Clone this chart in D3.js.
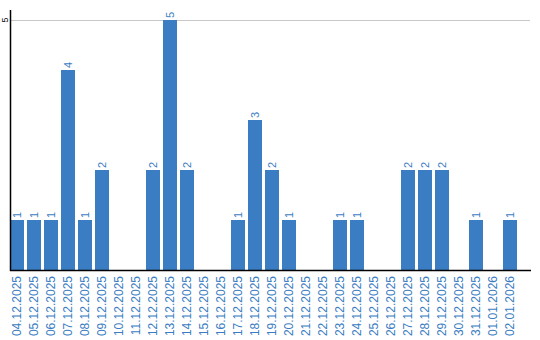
<!DOCTYPE html>
<html>
<head>
<meta charset="utf-8">
<script src="https://cdn.jsdelivr.net/npm/d3@7"></script>
<style>
  body { margin: 0; background: #fff; }
  text { font-family: "Liberation Sans", Arial, sans-serif; }
</style>
</head>
<body>
<svg id="chart" width="540" height="340"></svg>
<script>
const dates = ["04.12.2025","05.12.2025","06.12.2025","07.12.2025","08.12.2025","09.12.2025",
  "10.12.2025","11.12.2025","12.12.2025","13.12.2025","14.12.2025","15.12.2025","16.12.2025",
  "17.12.2025","18.12.2025","19.12.2025","20.12.2025","21.12.2025","22.12.2025","23.12.2025",
  "24.12.2025","25.12.2025","26.12.2025","27.12.2025","28.12.2025","29.12.2025","30.12.2025",
  "31.12.2025","01.01.2026","02.01.2026"];
const counts = [1,1,1,4,1,2,0,0,2,5,2,0,0,1,3,2,1,0,0,1,1,0,0,2,2,2,0,1,0,1];
const yTicks = [5];

const blue = "#3b7dc2";
const svg = d3.select("#chart");
const mLeft = 10, mRight = 517, mTop = 20, mBottom = 270;

const data = dates.map((d, i) => ({ date: d, value: counts[i] }));

const x = d3.scaleBand()
    .domain(dates)
    .range([mLeft, mRight])
    .paddingInner(3 / 17)
    .paddingOuter(0);
const y = d3.scaleLinear()
    .domain([0, 5])
    .range([mBottom, mTop]);

// grid line
svg.append("g")
    .selectAll("line")
    .data(yTicks)
    .enter()
    .append("line")
    .attr("x1", mLeft)
    .attr("x2", 530)
    .attr("y1", d => y(d) + 0.5)
    .attr("y2", d => y(d) + 0.5)
    .style("stroke", "#c8c8c8")
    .style("stroke-width", 1);

// bars
svg.append("g")
    .selectAll("rect")
    .data(data)
    .enter()
    .append("rect")
    .attr("x", d => x(d.date))
    .attr("y", d => y(d.value))
    .attr("width", x.bandwidth())
    .attr("height", d => mBottom - y(d.value))
    .style("fill", blue);

// value labels
svg.append("g")
    .selectAll("text")
    .data(data.filter(d => d.value > 0))
    .enter()
    .append("text")
    .attr("transform", d => `translate(${x(d.date) + x.bandwidth() / 2 + 4}, ${y(d.value) - 2}) rotate(-90)`)
    .attr("text-anchor", "start")
    .style("font-size", "11px")
    .style("fill", blue)
    .text(d => d.value);

// y axis
svg.append("line")
    .attr("x1", mLeft + 0.5).attr("x2", mLeft + 0.5)
    .attr("y1", 10).attr("y2", mBottom + 1)
    .style("stroke", "#000")
    .style("stroke-width", 1.5);

svg.append("g")
    .selectAll("text")
    .data(yTicks)
    .enter()
    .append("text")
    .attr("transform", d => `translate(8, ${y(d)}) rotate(-90)`)
    .attr("text-anchor", "middle")
    .style("font-size", "9px")
    .style("fill", "#000")
    .text(d => d);

// x axis
svg.append("line")
    .attr("x1", mLeft).attr("x2", 531)
    .attr("y1", mBottom + 0.5).attr("y2", mBottom + 0.5)
    .style("stroke", "#000")
    .style("stroke-width", 1.5);

svg.append("g")
    .selectAll("text")
    .data(dates)
    .enter()
    .append("text")
    .attr("transform", d => `translate(${x(d) + x.bandwidth() / 2 + 4}, ${mBottom + 6}) rotate(-90)`)
    .attr("text-anchor", "end")
    .style("font-size", "12px")
    .style("fill", blue)
    .text(d => d);
</script>
</body>
</html>
